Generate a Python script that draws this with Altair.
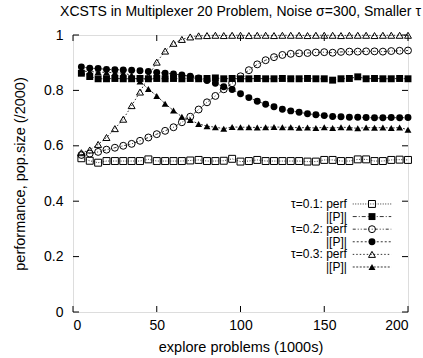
import altair as alt
import pandas as pd

# ---------------- data ----------------
x_vals = list(range(5, 205, 5))

perf_01 = [0.555, 0.546, 0.539, 0.545, 0.545, 0.545, 0.545, 0.545, 0.551, 0.545,
           0.545, 0.545, 0.545, 0.547, 0.549, 0.545, 0.545, 0.546, 0.553, 0.543,
           0.545, 0.549, 0.545, 0.545, 0.545, 0.545, 0.545, 0.543, 0.543, 0.549,
           0.549, 0.545, 0.545, 0.551, 0.551, 0.545, 0.545, 0.549, 0.550, 0.549]

pop_01 = [0.862, 0.850, 0.842, 0.842, 0.843, 0.842, 0.842, 0.843, 0.842, 0.843,
          0.842, 0.843, 0.842, 0.843, 0.842, 0.843, 0.845, 0.842, 0.843, 0.842,
          0.842, 0.843, 0.842, 0.842, 0.843, 0.842, 0.842, 0.843, 0.842, 0.842,
          0.837, 0.842, 0.843, 0.849, 0.842, 0.843, 0.842, 0.842, 0.843, 0.842]

perf_02 = [0.567, 0.572, 0.578, 0.586, 0.593, 0.600, 0.607, 0.618, 0.630, 0.642,
           0.654, 0.667, 0.685, 0.705, 0.731, 0.757, 0.780, 0.804, 0.826, 0.851,
           0.873, 0.894, 0.909, 0.920, 0.928, 0.932, 0.934, 0.935, 0.937, 0.938,
           0.936, 0.939, 0.940, 0.940, 0.941, 0.941, 0.940, 0.942, 0.943, 0.944]

pop_02 = [0.885, 0.880, 0.879, 0.876, 0.875, 0.874, 0.873, 0.871, 0.868, 0.865,
          0.862, 0.859, 0.856, 0.851, 0.845, 0.836, 0.826, 0.813, 0.803, 0.788,
          0.774, 0.761, 0.750, 0.741, 0.732, 0.726, 0.721, 0.716, 0.712, 0.709,
          0.706, 0.705, 0.703, 0.703, 0.702, 0.701, 0.701, 0.702, 0.701, 0.702]

perf_03 = [0.575, 0.585, 0.605, 0.630, 0.662, 0.696, 0.745, 0.794, 0.850, 0.902,
           0.942, 0.970, 0.984, 0.993, 0.997, 0.998, 0.999, 0.998, 0.999, 0.999,
           0.998, 0.999, 0.999, 0.998, 0.999, 0.999, 0.999, 0.998, 0.999, 0.999,
           0.999, 0.998, 0.999, 0.999, 0.999, 0.998, 0.999, 0.999, 0.999, 0.999]

pop_03 = [0.870, 0.868, 0.866, 0.865, 0.864, 0.862, 0.855, 0.832, 0.805, 0.780,
          0.752, 0.727, 0.705, 0.693, 0.679, 0.671, 0.667, 0.662, 0.668, 0.667,
          0.667, 0.666, 0.667, 0.668, 0.667, 0.667, 0.665, 0.666, 0.664, 0.667,
          0.664, 0.667, 0.666, 0.663, 0.666, 0.665, 0.666, 0.664, 0.666, 0.658]

series_keys = ["p01", "P01", "p02", "P02", "p03", "P03"]
series_labels = ["τ=0.1: perf", "|[P]|", "τ=0.2: perf", "|[P]|", "τ=0.3: perf", "|[P]|"]
series_values = [perf_01, pop_01, perf_02, pop_02, perf_03, pop_03]
series_filled = [False, True, False, True, False, True]

x_ticks = [0, 50, 100, 150, 200]
y_ticks = [0, 0.2, 0.4, 0.6, 0.8, 1]

TITLE = "XCSTS in Multiplexer 20 Problem, Noise σ=300, Smaller τ"
X_TITLE = "explore problems (1000s)"
Y_TITLE = "performance, pop.size (/2000)"

# ---------------- styles ----------------
FONT = "Liberation Sans"
W, H = 335, 277
MSIZE = 48
shapes = ["square", "square", "circle", "circle", "triangle-up", "triangle-up"]
dashes = [[1, 1.5], [4, 2, 1, 2], [3, 2, 1, 2, 1, 2], [2, 2], [1.5, 2], [2, 1.5]]

rows = []
for key, vals, filled in zip(series_keys, series_values, series_filled):
    for xv, yv in zip(x_vals, vals):
        rows.append({"series": key, "x": xv, "y": yv, "filled": filled})
df = pd.DataFrame(rows)

xscale = alt.Scale(domain=[0, 200], nice=False)
yscale = alt.Scale(domain=[0, 1], nice=False)
shape_scale = alt.Scale(domain=series_keys, range=shapes)
dash_scale = alt.Scale(domain=series_keys, range=dashes)

base = alt.Chart(df)

lines = base.mark_line(color="black", strokeWidth=0.8).encode(
    x=alt.X("x:Q", scale=xscale,
            axis=alt.Axis(values=x_ticks, title=X_TITLE, ticks=False, domain=False, grid=False,
                          labelPadding=6, titlePadding=8, labelFontSize=14, titleFontSize=14.5,
                          labelFont=FONT, titleFont=FONT, titleFontWeight="normal",
                          labelColor="black", titleColor="black")),
    y=alt.Y("y:Q", scale=yscale,
            axis=alt.Axis(values=y_ticks, title=Y_TITLE, ticks=False, domain=False, grid=False,
                          format="~g", labelPadding=10, titlePadding=16, labelFontSize=14,
                          titleFontSize=14.5, labelFont=FONT, titleFont=FONT,
                          titleFontWeight="normal", labelColor="black", titleColor="black")),
    detail="series:N",
    strokeDash=alt.StrokeDash("series:N", scale=dash_scale, legend=None),
)

open_pts = base.transform_filter("!datum.filled").mark_point(
    filled=False, color="black", strokeWidth=1, size=MSIZE, opacity=1
).encode(
    x="x:Q", y="y:Q",
    shape=alt.Shape("series:N", scale=shape_scale, legend=None),
)

filled_pts = base.transform_filter("datum.filled").mark_point(
    filled=True, color="black", size=MSIZE, opacity=1
).encode(
    x="x:Q", y="y:Q",
    shape=alt.Shape("series:N", scale=shape_scale, legend=None),
)

# inward ticks on all four sides
xt = alt.Chart(pd.DataFrame({"v": x_ticks}))
yt = alt.Chart(pd.DataFrame({"v": y_ticks}))
tick_style = dict(color="black", strokeWidth=1)
ticks = [
    xt.mark_rule(**tick_style).encode(x=alt.X("v:Q", scale=xscale), y=alt.value(H), y2=alt.value(H - 6)),
    xt.mark_rule(**tick_style).encode(x=alt.X("v:Q", scale=xscale), y=alt.value(0), y2=alt.value(6)),
    yt.mark_rule(**tick_style).encode(y=alt.Y("v:Q", scale=yscale), x=alt.value(0), x2=alt.value(6)),
    yt.mark_rule(**tick_style).encode(y=alt.Y("v:Q", scale=yscale), x=alt.value(W), x2=alt.value(W - 6)),
]

# legend (inside plot, lower right), placed in data coordinates
LEG_TEXT_X = 163.5
LEG_LINE_X1, LEG_LINE_X2, LEG_MARK_X = 167, 190, 178.5
LEG_TOP, LEG_STEP = 0.390, 0.0455
leg = pd.DataFrame({
    "series": series_keys,
    "label": series_labels,
    "ly": [LEG_TOP - i * LEG_STEP for i in range(len(series_keys))],
    "filled": series_filled,
})
leg["x1"] = LEG_LINE_X1
leg["x2"] = LEG_LINE_X2
leg["xm"] = LEG_MARK_X
leg["xt"] = LEG_TEXT_X
lb = alt.Chart(leg)
leg_lines = lb.mark_rule(color="black", strokeWidth=0.8).encode(
    x=alt.X("x1:Q", scale=xscale), x2="x2:Q", y=alt.Y("ly:Q", scale=yscale),
    strokeDash=alt.StrokeDash("series:N", scale=dash_scale, legend=None),
)
leg_open = lb.transform_filter("!datum.filled").mark_point(
    filled=False, color="black", strokeWidth=1, size=MSIZE, opacity=1
).encode(x=alt.X("xm:Q", scale=xscale), y=alt.Y("ly:Q", scale=yscale),
         shape=alt.Shape("series:N", scale=shape_scale, legend=None))
leg_filled = lb.transform_filter("datum.filled").mark_point(
    filled=True, color="black", size=MSIZE, opacity=1
).encode(x=alt.X("xm:Q", scale=xscale), y=alt.Y("ly:Q", scale=yscale),
         shape=alt.Shape("series:N", scale=shape_scale, legend=None))
leg_text = lb.mark_text(align="right", baseline="middle", font=FONT, fontSize=12, color="black").encode(
    x=alt.X("xt:Q", scale=xscale), y=alt.Y("ly:Q", scale=yscale), text="label:N",
)

chart = alt.layer(
    lines, open_pts, filled_pts, *ticks, leg_lines, leg_open, leg_filled, leg_text
).properties(
    width=W, height=H,
    title=alt.TitleParams(TITLE, font=FONT, fontSize=14, fontWeight="normal",
                          color="black", anchor="middle", offset=9),
    autosize=alt.AutoSizeParams(type="none"),
    padding={"left": 73, "top": 35, "right": 15, "bottom": 46},
).configure_view(
    stroke="black", strokeWidth=1
).configure(background="white")

chart.save("out.html", embed_options={"renderer": "svg", "actions": False})
